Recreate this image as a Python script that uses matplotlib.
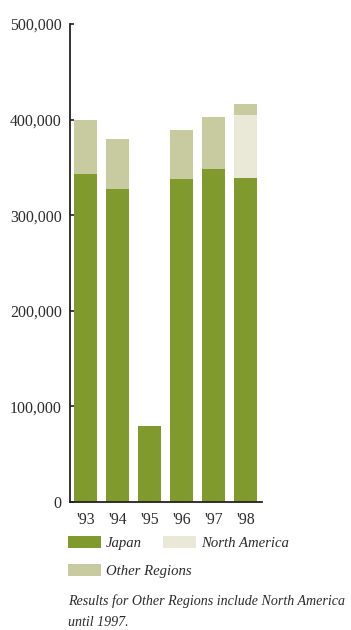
import matplotlib
matplotlib.use("Agg")
import matplotlib.pyplot as plt
from matplotlib.patches import Patch
import numpy as np

years = ["'93", "'94", "'95", "'96", "'97", "'98"]
japan = [343000, 327000, 79000, 338000, 348000, 339000]
north_america = [0, 0, 0, 0, 0, 66000]
other_regions = [57000, 53000, 0, 51000, 55000, 11000]
yticks = [0, 100000, 200000, 300000, 400000, 500000]

c_japan = "#809a2e"
c_na = "#eae9d8"
c_other = "#c8caa0"
txt = "#2b2b2b"

plt.rcParams["font.family"] = ["Liberation Serif", "DejaVu Serif"]
W, H = 351, 630
fig = plt.figure(figsize=(W / 100, H / 100), dpi=100)
ax = fig.add_axes([70 / W, (H - 502) / H, (262 - 70) / W, (502 - 24) / H])

x = np.arange(len(years))
bw = 0.72
ax.bar(x, japan, bw, color=c_japan, linewidth=0)
ax.bar(x, north_america, bw, bottom=japan, color=c_na, linewidth=0)
bottom2 = [a + b for a, b in zip(japan, north_america)]
ax.bar(x, other_regions, bw, bottom=bottom2, color=c_other, linewidth=0)

ax.set_xlim(-0.484, 5.516)
ax.set_ylim(0, 500000)
ax.set_yticks(yticks)
ax.set_yticklabels([f"{v:,}" for v in yticks])
ax.set_xticks(x)
ax.set_xticklabels(years)
for s in ["top", "right"]:
    ax.spines[s].set_visible(False)
for s in ["left", "bottom"]:
    ax.spines[s].set_color("#222222")
    ax.spines[s].set_linewidth(1.3)
ax.tick_params(axis="y", direction="in", length=3, width=1.2, color="#222222",
               labelsize=11.4, labelcolor=txt, pad=6)
ax.tick_params(axis="x", length=0, labelsize=11.4, labelcolor=txt, pad=7)

fs_it = 10.6
h_j = Patch(facecolor=c_japan, edgecolor="none")
h_na = Patch(facecolor=c_na, edgecolor="none")
h_o = Patch(facecolor=c_other, edgecolor="none")
leg_kw = dict(frameon=False, handlelength=2.25, handleheight=0.95,
              handletextpad=0.35, borderpad=0, borderaxespad=0, labelcolor=txt,
              prop={"style": "italic", "size": fs_it})
leg1 = fig.legend([h_j, h_na], ["Japan", "North America"], ncol=2, columnspacing=1.4,
                  loc="center left", bbox_to_anchor=(68 / W, 1 - 543 / H), **leg_kw)
leg2 = fig.legend([h_o], ["Other Regions"],
                  loc="center left", bbox_to_anchor=(68 / W, 1 - 571 / H), **leg_kw)

fs_note = 10.1
fig.text(68 / W, 1 - 601 / H, "Results for Other Regions include North America",
         fontsize=fs_note, style="italic", color=txt, va="center", ha="left")
fig.text(68 / W, 1 - 623 / H, "until 1997.",
         fontsize=fs_note, style="italic", color=txt, va="center", ha="left")

fig.savefig("out.png", dpi=100)
